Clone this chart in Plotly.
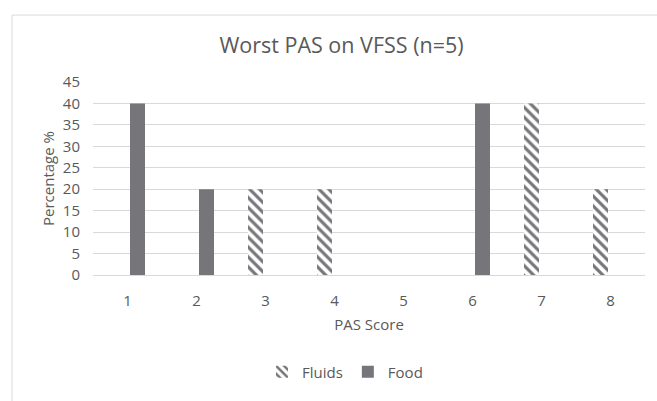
import plotly.graph_objects as go

categories = ["1", "2", "3", "4", "5", "6", "7", "8"]
fluids = [0, 0, 20, 20, 0, 0, 40, 20]
food = [40, 20, 0, 0, 0, 40, 0, 0]
y_ticks = [0, 5, 10, 15, 20, 25, 30, 35, 40, 45]

W, H = 657, 401
L, R, T, B = 93, 12, 82, 120
pw, ph = W - L - R, H - T - B

txt = "#595959"
grid = "#d9d9d9"
bar_col = "#76767a"
font_family = "'Open Sans', sans-serif"

fig = go.Figure()
fig.add_trace(go.Bar(
    name="Fluids", x=categories, y=fluids,
    marker=dict(color=bar_col, line=dict(width=0),
                pattern=dict(shape="\\", fgcolor=bar_col, bgcolor="white",
                             size=7, solidity=0.45, fillmode="replace")),
))
fig.add_trace(go.Bar(
    name="Food", x=categories, y=food,
    marker=dict(color=bar_col, line=dict(width=0)),
))

# outer chart border (extends beyond the cropped picture at right/bottom)
fig.add_shape(type="rect", xref="paper", yref="paper",
              x0=(12 - L) / pw, x1=(680 - L) / pw,
              y0=(H - B - 430) / ph, y1=(H - B - 13) / ph,
              line=dict(color=grid, width=1), fillcolor="rgba(0,0,0,0)", layer="below")

fig.update_layout(
    width=W, height=H,
    margin=dict(l=L, r=R, t=T, b=B),
    paper_bgcolor="white", plot_bgcolor="white",
    font=dict(family=font_family, color=txt, size=15),
    barmode="group", bargap=0.42, bargroupgap=0.25,
    title=dict(text="Worst PAS on VFSS (n=5)", x=341.5 / W, xanchor="center",
               xref="container", y=1 - 45 / H, yanchor="middle", yref="container",
               font=dict(size=21.5, color=txt, family=font_family)),
    showlegend=True,
    legend=dict(orientation="h", x=(345 - L) / pw, xanchor="center",
                y=(H - B - 381) / ph, yanchor="middle",
                font=dict(size=15, color=txt), itemwidth=30,
                traceorder="normal"),
    xaxis=dict(type="category", showgrid=False, showline=True, linecolor=grid,
               linewidth=1, ticks="", ticklabelstandoff=12,
               tickfont=dict(size=15, color=txt),
               title=dict(text="PAS Score", standoff=10, font=dict(size=15, color=txt))),
    yaxis=dict(range=[0, 45], tickvals=y_ticks, showgrid=True, gridcolor=grid,
               gridwidth=1, zeroline=True, zerolinecolor=grid, zerolinewidth=1,
               ticks="", ticklabelstandoff=12, tickfont=dict(size=15, color=txt),
               title=dict(text="Percentage %", standoff=4, font=dict(size=15, color=txt))),
)

fig.write_html("out.html", config={"displayModeBar": False},
               post_script="document.body.style.margin='0';")
